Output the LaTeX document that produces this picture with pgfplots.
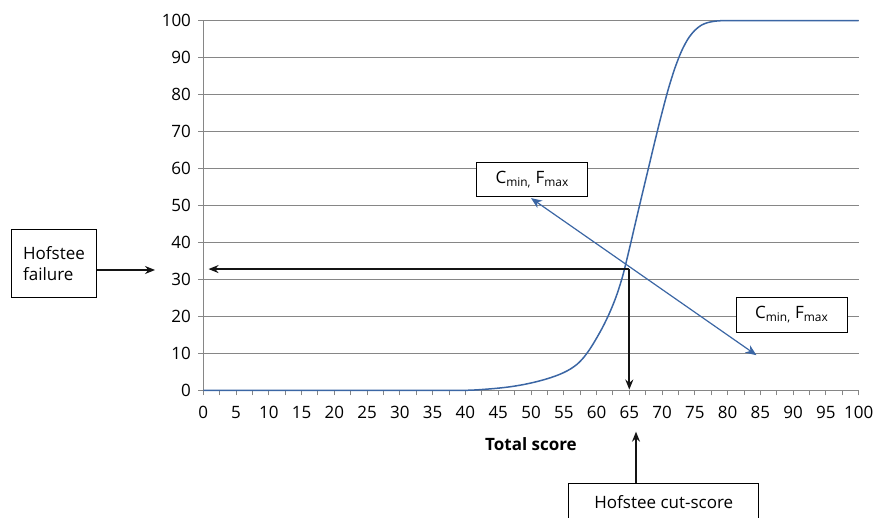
\documentclass[border=0pt]{standalone}
\usepackage{fontspec}
\setmainfont{Open Sans}
\usepackage{pgfplots}
\pgfplotsset{compat=1.18}
\usetikzlibrary{arrows.meta}
\definecolor{gridgray}{RGB}{134,134,134}
\definecolor{curveblue}{RGB}{59,102,164}
\definecolor{arrowblack}{RGB}{20,20,20}
\pgfplotstableread{
x y
0 0
5 0
10 0
15 0
20 0
25 0
30 0
35 0
38 0
40 0
41 0.05
42 0.15
43 0.28
44 0.42
45 0.58
46 0.77
47 1.0
48 1.28
49 1.6
50 1.98
51 2.4
52 2.88
53 3.42
54 4.05
55 4.8
56 5.75
57 7.0
58 8.8
59 11.2
60 14.1
61 17.3
62 21.0
63 25.4
64 31.0
65 38.2
66 45.8
67 53.3
68 60.7
69 68.1
70 75.2
71 81.8
72 87.4
73 91.9
74 95.2
75 97.4
76 98.8
77 99.5
78 99.85
79 100
80 100
85 100
90 100
95 100
100 100
}\curvedata
\begin{document}
\fontsize{17}{20.4}\selectfont
\begin{tikzpicture}[x=1pt,y=1pt]
\useasboundingbox (0,0) rectangle (875,517);
\clip (0,0) rectangle (875,517);
\begin{axis}[
  at={(203.3pt,126.7pt)}, anchor=south west,
  scale only axis, width=655.4pt, height=369.6pt,
  xmin=0, xmax=100, ymin=0, ymax=100,
  axis x line*=bottom, axis y line*=left,
  axis line style={gridgray, line width=1pt, -},
  ymajorgrids, grid style={gridgray, line width=1pt},
  tick style={gridgray, line width=1pt},
  tick align=outside, major tick length=5pt, minor tick length=5pt,
  xtick={0,5,...,100}, minor x tick num=1,
  ytick={0,10,...,100},
  /pgf/number format/assume math mode=true,
  xticklabel style={yshift=-5pt, text=black},
  yticklabel style={xshift=-1.5pt, text=black},
  xlabel={\textbf{Total score}},
  every axis x label/.style={at={(axis description cs:0.5,0)}, yshift=-53.7pt, anchor=center},
  clip=false,
]
\addplot[curveblue, line width=1.5pt, smooth, tension=0.5] table[x=x,y=y]{\curvedata};
\addplot[curveblue, line width=1.2pt, {Stealth[length=11pt,width=9pt]}-{Stealth[length=11pt,width=9pt]}] coordinates {(50,52) (84.4,9.5)};
\draw[arrowblack, line width=1.7pt, -{Stealth[length=10pt,width=8pt]}] (axis cs:65,32.8) -- (axis cs:0.8,32.8);
\draw[arrowblack, line width=1.7pt, -{Stealth[length=10pt,width=8pt]}] (axis cs:65,32.8) -- (axis cs:65,0.2);
\end{axis}
% annotation boxes
\draw[black, line width=1pt, fill=white] (11.7,219.7) rectangle (96.7,287);
\node[align=left, inner sep=0pt] at (54,253.5) {Hofstee\\failure};
\draw[arrowblack, line width=1.2pt, -{Stealth[length=10pt,width=8pt]}] (96.7,247) -- (155,247);
\draw[black, line width=1pt, fill=white] (476.7,320.3) rectangle (587.7,354.7);
\node[inner sep=0pt] at (532.2,337.5) {C\textsubscript{min,} F\textsubscript{max}};
\draw[black, line width=1pt, fill=white] (736,184.7) rectangle (847.3,219.7);
\node[inner sep=0pt] at (791.7,202.2) {C\textsubscript{min,} F\textsubscript{max}};
\draw[black, line width=1pt, fill=white] (568.3,-10) rectangle (758,33.7);
\node[inner sep=0pt] at (663.8,15.3) {Hofstee cut-score};
\draw[arrowblack, line width=1.2pt, -{Stealth[length=10pt,width=8pt]}] (636,33.7) -- (636,85.3);
\end{tikzpicture}
\end{document}
